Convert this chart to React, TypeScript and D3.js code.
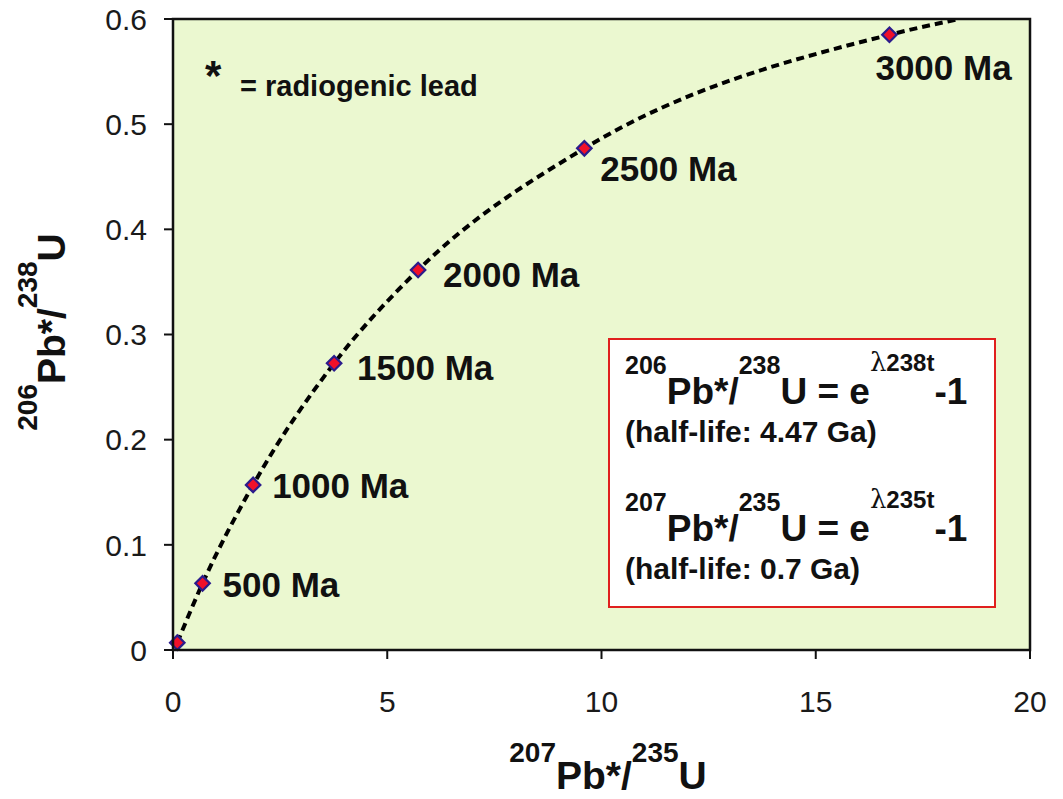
import React from 'react';
import * as d3 from 'd3';

// ---- data ----
const ages = [0, 500, 1000, 1500, 2000, 2500, 3000];
const pb207u235 = [0.1, 0.69, 1.87, 3.76, 5.72, 9.6, 16.72];
const pb206u238 = [0.007, 0.0634, 0.157, 0.2726, 0.3613, 0.477, 0.585];
const ageLabels = ['', '500 Ma', '1000 Ma', '1500 Ma', '2000 Ma', '2500 Ma', '3000 Ma'];
// where the concordia leaves the plot at the top
const curveEnd207 = 18.35;
const curveEnd206 = 0.6;

const xTicks = [0, 5, 10, 15, 20];
const xTickLabels = ['0', '5', '10', '15', '20'];
const yTicks = [0, 0.1, 0.2, 0.3, 0.4, 0.5, 0.6];
const yTickLabels = ['0', '0.1', '0.2', '0.3', '0.4', '0.5', '0.6'];

// ---- layout ----
const labelOffsets: [number, number][] = [
  [0, 0], [20, 14], [19, 13], [23, 17], [25, 17], [16, 33], [-14, 45],
];

const FONT = "'Liberation Sans', Arial, Helvetica, sans-serif";

type Seg = { t: string; size: number; shift: number; weight?: string | number; family?: string };

function Rich(props: { x: number; y: number; segs: Seg[]; anchor?: string; transform?: string }) {
  let prev = 0;
  return (
    <text
      x={props.x}
      y={props.y}
      textAnchor={props.anchor || 'start'}
      transform={props.transform}
      fontFamily={FONT}
      fill="#111"
      style={{ whiteSpace: 'pre' }}
    >
      {props.segs.map((s, i) => {
        const dy = s.shift - prev;
        prev = s.shift;
        return (
          <tspan
            key={i}
            dy={dy}
            fontSize={s.size}
            fontWeight={s.weight ?? 'bold'}
            fontFamily={s.family ?? FONT}
          >
            {s.t}
          </tspan>
        );
      })}
    </text>
  );
}

export default function App() {
  const W = 1063;
  const H = 799;
  const L = 173, T = 19, R = 1030, B = 650;
  const x = d3.scaleLinear().domain([0, 20]).range([L, R]);
  const y = d3.scaleLinear().domain([0, 0.6]).range([B, T]);

  const pts = ages.map((a, i) => ({ a, vx: pb207u235[i], vy: pb206u238[i], label: ageLabels[i] }));
  const curvePts: [number, number][] = [
    ...pts.map((p) => [p.vx, p.vy] as [number, number]),
    [curveEnd207, curveEnd206],
  ];
  const line = d3
    .line<[number, number]>()
    .x((d) => x(d[0]))
    .y((d) => y(d[1]))
    .curve(d3.curveMonotoneX);
  const diamond = d3.symbol().type(d3.symbolSquare).size(105)() as string;

  const supTitle = 28;
  const mainTitle = 39;

  const boxMain = 37;
  const boxSup = 25;
  const boxNote = 30;

  const formula = (iso1: string, iso2: string, lam: string): Seg[] => [
    { t: iso1, size: boxSup, shift: -30 },
    { t: 'Pb*/', size: boxMain, shift: 0 },
    { t: iso2, size: boxSup, shift: -30 },
    { t: 'U = e', size: boxMain, shift: 0 },
    { t: 'λ', size: 26, shift: -33, weight: 'normal', family: "'DejaVu Serif', 'Liberation Serif', serif" },
    { t: lam, size: 24, shift: -33 },
    { t: '-1', size: boxMain, shift: 0 },
  ];

  return (
    <svg
      width={W}
      height={H}
      style={{ position: 'absolute', left: 0, top: 0, background: '#fff' }}
    >
      <defs>
        <clipPath id="plotClip">
          <rect x={L} y={T} width={R - L} height={B - T} />
        </clipPath>
      </defs>

      {/* plot background */}
      <rect x={L} y={T} width={R - L} height={B - T} fill="#EBF8D0" />

      {/* ticks */}
      {yTicks.map((v, i) => (
        <g key={'y' + i}>
          <line x1={L - 9} x2={L} y1={y(v)} y2={y(v)} stroke="#111" strokeWidth={2} />
          <text
            x={L - 26}
            y={y(v)}
            dy="0.36em"
            textAnchor="end"
            fontFamily={FONT}
            fontSize={30}
            fill="#1a1a1a"
          >
            {yTickLabels[i]}
          </text>
        </g>
      ))}
      {xTicks.map((v, i) => (
        <g key={'x' + i}>
          <line x1={x(v)} x2={x(v)} y1={B} y2={B + 9} stroke="#111" strokeWidth={2} />
          <text
            x={x(v)}
            y={B + 62}
            textAnchor="middle"
            fontFamily={FONT}
            fontSize={30}
            fill="#1a1a1a"
          >
            {xTickLabels[i]}
          </text>
        </g>
      ))}

      {/* concordia curve */}
      <path
        d={line(curvePts) || ''}
        fill="none"
        stroke="#000"
        strokeWidth={4}
        strokeDasharray="8 5"
        clipPath="url(#plotClip)"
      />

      {/* points */}
      {pts.map((p, i) => (
        <path
          key={'p' + i}
          d={diamond}
          transform={`translate(${x(p.vx)},${y(p.vy)}) rotate(45)`}
          fill="#F0102A"
          stroke="#2B1C8C"
          strokeWidth={2.2}
        />
      ))}

      {/* age labels */}
      {pts.map((p, i) =>
        p.label ? (
          <text
            key={'l' + i}
            x={x(p.vx) + labelOffsets[i][0]}
            y={y(p.vy) + labelOffsets[i][1]}
            fontFamily={FONT}
            fontWeight="bold"
            fontSize={35}
            fill="#111"
          >
            {p.label}
          </text>
        ) : null
      )}

      {/* frame */}
      <rect x={L} y={T} width={R - L} height={B - T} fill="none" stroke="#111" strokeWidth={2.5} />

      {/* radiogenic lead note */}
      <text x={205} y={90} fontFamily={FONT} fontWeight="bold" fontSize={42} fill="#111">
        *
      </text>
      <text x={240} y={96} fontFamily={FONT} fontWeight="bold" fontSize={29} fill="#111">
        = radiogenic lead
      </text>

      {/* equation box */}
      <rect x={609} y={339} width={386} height={268} fill="#fff" stroke="#E0201E" strokeWidth={2} />
      <Rich x={625} y={404} segs={formula('206', '238', '238t')} />
      <text x={625} y={442} fontFamily={FONT} fontWeight="bold" fontSize={boxNote} fill="#111">
        (half-life: 4.47 Ga)
      </text>
      <Rich x={625} y={541} segs={formula('207', '235', '235t')} />
      <text x={625} y={579} fontFamily={FONT} fontWeight="bold" fontSize={boxNote} fill="#111">
        (half-life: 0.7 Ga)
      </text>

      {/* axis titles */}
      <Rich
        x={608}
        y={789}
        anchor="middle"
        segs={[
          { t: '207', size: supTitle, shift: -27 },
          { t: 'Pb*/', size: mainTitle, shift: 0 },
          { t: '235', size: supTitle, shift: -27 },
          { t: 'U', size: mainTitle, shift: 0 },
        ]}
      />
      <Rich
        x={0}
        y={0}
        anchor="middle"
        transform={`translate(65,332) rotate(-90)`}
        segs={[
          { t: '206', size: supTitle, shift: -28 },
          { t: 'Pb*/', size: mainTitle, shift: 0 },
          { t: '238', size: supTitle, shift: -28 },
          { t: 'U', size: mainTitle, shift: 0 },
        ]}
      />
    </svg>
  );
}
